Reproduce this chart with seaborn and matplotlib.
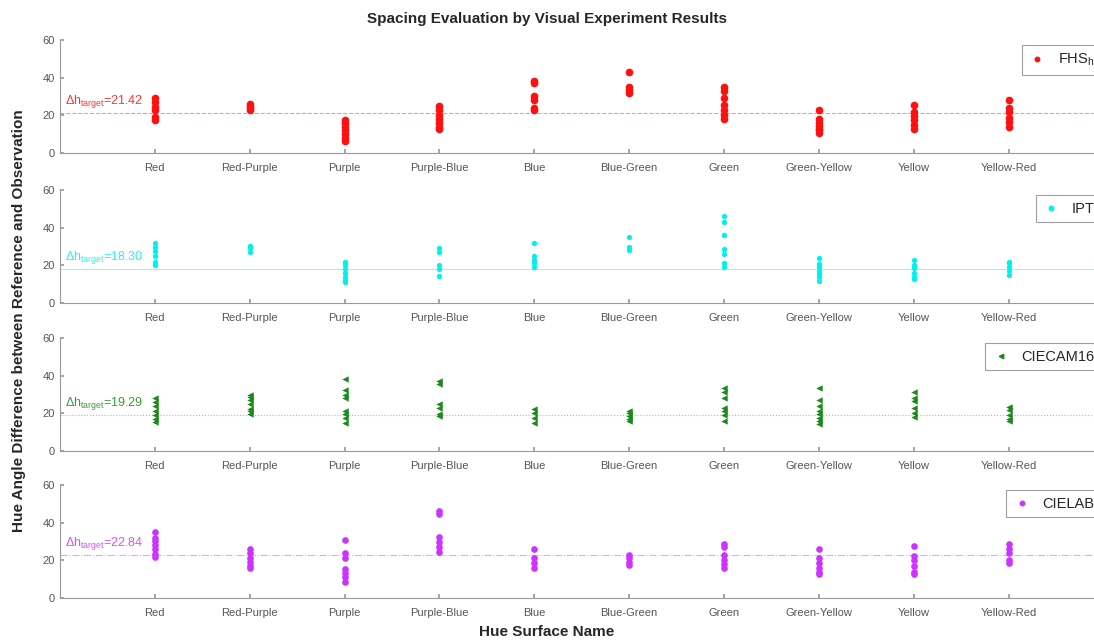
import numpy as np
import pandas as pd
import matplotlib
matplotlib.use("Agg")
import matplotlib.pyplot as plt
from matplotlib.lines import Line2D
import seaborn as sns

sns.set_theme(style="white")
plt.rcParams["font.family"] = ["Liberation Sans", "DejaVu Sans"]
plt.rcParams["mathtext.fontset"] = "custom"
plt.rcParams["mathtext.rm"] = "Liberation Sans"
plt.rcParams["mathtext.it"] = "Liberation Sans"

categories = ["Red", "Red-Purple", "Purple", "Purple-Blue", "Blue",
              "Blue-Green", "Green", "Green-Yellow", "Yellow", "Yellow-Red"]

fhs_h = {
    "Red": [29, 27, 24.5, 23, 19, 17.5],
    "Red-Purple": [26, 25, 24, 23],
    "Purple": [17.5, 16, 14, 12, 10, 8, 6.5],
    "Purple-Blue": [25, 23, 20, 18, 16, 14, 12.5],
    "Blue": [38, 37, 30, 28, 24, 23],
    "Blue-Green": [43, 35, 33.5, 32],
    "Green": [35, 33, 29, 25.5, 23, 20, 18],
    "Green-Yellow": [23, 18, 16, 14.5, 13, 12, 10.5],
    "Yellow": [25.5, 22, 19.5, 17.5, 15, 13],
    "Yellow-Red": [28, 24, 22, 18.5, 16.5, 14],
}
ipt = {
    "Red": [32, 30, 27.5, 25, 22, 20],
    "Red-Purple": [30.5, 29, 27],
    "Purple": [22, 20, 18, 16, 14, 12, 11],
    "Purple-Blue": [29, 27, 20, 18, 14.5],
    "Blue": [32, 25, 23, 21, 19],
    "Blue-Green": [35, 30, 28],
    "Green": [46, 43, 36, 28.5, 26, 21, 19],
    "Green-Yellow": [24, 20.5, 19, 17, 15.5, 14, 11.5],
    "Yellow": [23, 20, 18.5, 16, 14, 12.5],
    "Yellow-Red": [22, 21, 19, 17, 15],
}
ciecam16 = {
    "Red": [28, 26, 24, 21, 19, 17, 15.5],
    "Red-Purple": [30, 28.5, 27, 25, 22.5, 21, 19.5],
    "Purple": [38.5, 32.5, 30, 28, 21.5, 19.5, 17.5, 15],
    "Purple-Blue": [37, 35.5, 25, 23, 19.5, 18.5],
    "Blue": [22.5, 20, 17.5, 15],
    "Blue-Green": [21.5, 20, 18.5, 17, 16],
    "Green": [33.5, 31.5, 28, 23, 21, 19, 16],
    "Green-Yellow": [33.5, 27, 24, 21.5, 19.5, 17.5, 16, 14.5],
    "Yellow": [31.5, 28, 26.5, 23, 20, 18],
    "Yellow-Red": [23.5, 22, 19, 17, 16],
}
cielab = {
    "Red": [35, 32, 30.5, 28, 26, 23.5, 22],
    "Red-Purple": [26, 24, 21.5, 19, 17, 16],
    "Purple": [31, 24, 21.5, 15.5, 13.5, 11, 8.5],
    "Purple-Blue": [46, 44.5, 32.5, 30, 27, 24.5],
    "Blue": [26, 21, 18.5, 16],
    "Blue-Green": [23, 21, 19, 17.5],
    "Green": [28.5, 27, 23, 20, 18, 16],
    "Green-Yellow": [26, 21, 18.5, 16, 14, 12.5],
    "Yellow": [27.5, 22.5, 20, 17, 14, 12.5],
    "Yellow-Red": [28.5, 26, 24, 20, 18.5],
}

targets = [21.42, 18.30, 19.29, 22.84]
series_names = ["FHS$_h$", "IPT", "CIECAM16", "CIELAB"]
series_data = [fhs_h, ipt, ciecam16, cielab]
colors = ["#ff1010", "#00f0ec", "#1a8a1a", "#cc33ff"]
markers = ["o", "o", "<", "o"]
sizes = [5.5, 3.8, 4.6, 4.8]
line_styles = ["--", "-", ":", "-."]


def to_frame(d):
    rows = [(cat, v) for cat in categories for v in d[cat]]
    return pd.DataFrame(rows, columns=["surface", "dh"])


fig = plt.figure(figsize=(10.94, 6.42), dpi=100)
left, width = 0.0548, 0.954
bottoms = [0.7617, 0.528, 0.2975, 0.0685]
height = 0.176
grey = "#555555"

for i in range(4):
    ax = fig.add_axes([left, bottoms[i], width, height])
    df = to_frame(series_data[i])
    sns.stripplot(data=df, x="surface", y="dh", order=categories, jitter=False,
                  color=colors[i], marker=markers[i], size=sizes[i],
                  linewidth=0, ax=ax, zorder=3)
    ax.axhline(targets[i], color=colors[i], lw=0.8, ls=line_styles[i],
               alpha=0.45, zorder=1)
    ax.text(-0.95, targets[i] + 1.5,
            r"$\Delta h_{\mathrm{target}}$" + f"={targets[i]:.2f}",
            color=colors[i], fontsize=9, alpha=0.85, ha="left", va="bottom")
    ax.set_xlim(-1, 10)
    ax.set_ylim(0, 60)
    ax.set_yticks([0, 20, 40, 60])
    ax.set_xlabel("")
    ax.set_ylabel("")
    for side in ["top", "right"]:
        ax.spines[side].set_visible(False)
    for side in ["left", "bottom"]:
        ax.spines[side].set_color("#9a9a9a")
        ax.spines[side].set_linewidth(0.8)
    ax.tick_params(axis="both", which="both", direction="in", length=3,
                   color="#9a9a9a", labelsize=8, labelcolor=grey,
                   left=True, bottom=True)
    ax.tick_params(axis="x", pad=7)
    ax.grid(False)
    handle = Line2D([], [], ls="none", marker=markers[i], color=colors[i],
                    markersize=3.2)
    leg = ax.legend([handle], [series_names[i]], loc="upper right",
                    bbox_to_anchor=(1.0, 0.98), frameon=True, fancybox=False,
                    fontsize=10.5, handlelength=1.2, handletextpad=0.8,
                    borderpad=0.45, borderaxespad=0.2)
    leg.get_frame().set_edgecolor("#888888")
    leg.get_frame().set_linewidth(0.8)

fig.text(0.5, 0.97, "Spacing Evaluation by Visual Experiment Results",
         ha="center", va="center", fontsize=11, fontweight="bold")
fig.text(0.5, 0.015, "Hue Surface Name", ha="center", va="center",
         fontsize=11, fontweight="bold")
fig.text(0.017, 0.5, "Hue Angle Difference between Reference and Observation",
         ha="center", va="center", rotation=90, fontsize=11, fontweight="bold")

fig.savefig("out.png", dpi=100)
